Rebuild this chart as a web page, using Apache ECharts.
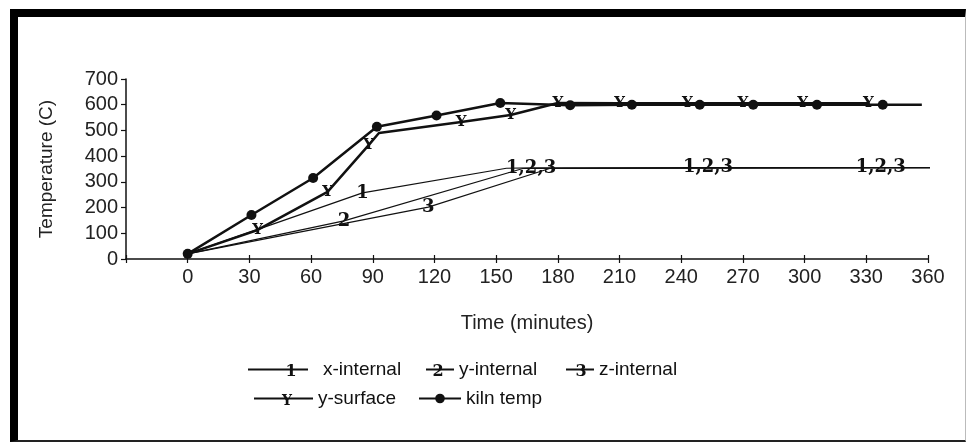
<!DOCTYPE html>
<html>
<head>
<meta charset="utf-8">
<script src="https://cdn.jsdelivr.net/npm/echarts@6/dist/echarts.min.js"></script>
<style>
  html, body { margin: 0; padding: 0; background: #fff; }
  #frame {
    position: absolute; left: 10px; top: 9px; width: 956px; height: 433px;
    box-sizing: border-box;
    border-left: 8px solid #000; border-top: 8px solid #000;
    border-bottom: 2px solid #222; border-right: 1px solid #bbb;
  }
  #chart { position: absolute; left: 0; top: 0; width: 968px; height: 443px; }
</style>
</head>
<body>
<div id="frame"></div>
<div id="chart"></div>
<script>
// time in minutes, temperature in C
const xIntTime  = [0, 85, 155, 167, 253, 337, 372];
const xIntTemp  = [20, 257, 353, 354, 355, 355, 355];
const xIntMarks = ['', '1', '', '1,2,3', '1,2,3', '1,2,3', ''];

const yIntTime  = [0, 76, 163, 372];
const yIntTemp  = [20, 148, 352, 355];
const yIntMarks = ['', '2', '', ''];

const zIntTime  = [0, 117, 176, 372];
const zIntTemp  = [20, 202, 352, 355];
const zIntMarks = ['', '3', '', ''];

const ySurfTime  = [0, 34, 68, 88, 93, 133, 157, 180, 210, 243, 270, 299, 331];
const ySurfTemp  = [20, 113, 261, 443, 490, 533, 560, 607, 606, 606, 606, 606, 606];
const ySurfMarks = ['', 'Y', 'Y', 'Y', '', 'Y', 'Y', 'Y', 'Y', 'Y', 'Y', 'Y', 'Y'];

const kilnTime = [0, 31, 61, 92, 121, 152, 186, 216, 249, 275, 306, 338, 357];
const kilnTemp = [20, 171, 315, 514, 558, 607, 598, 600, 600, 600, 600, 600, 600];

const xTicks = [-30, 0, 30, 60, 90, 120, 150, 180, 210, 240, 270, 300, 330, 360];
const yTicks = [0, 100, 200, 300, 400, 500, 600, 700];

const sans = 'Liberation Sans, Arial, sans-serif';
const serif = 'DejaVu Serif, serif';
const ink = '#111';

function pts(t, v) {
  return t.map((x, i) => [x, v[i]]);
}

// a thin line whose markers are text glyphs
function textLine(name, t, v, marks, width, size) {
  return {
    name: name, type: 'line', clip: false, silent: true,
    data: pts(t, v),
    symbol: 'circle', symbolSize: 2,
    itemStyle: { color: 'rgba(0,0,0,0)' },
    lineStyle: { color: ink, width: width },
    label: {
      show: true, position: 'inside', color: ink,
      fontFamily: serif, fontWeight: 'bold', fontSize: size,
      formatter: p => marks[p.dataIndex]
    }
  };
}

const chart = echarts.init(document.getElementById('chart'));

const kilnData = pts(kilnTime, kilnTemp).map((d, i) =>
  i === kilnTime.length - 1 ? { value: d, symbol: 'none' } : d);

const legendText = { color: ink, fontSize: 19, fontFamily: sans };
function leg(name, left, top, w, pad) {
  return {
    data: [name], left: left, top: top, padding: 0,
    itemWidth: w, itemHeight: 12, selectedMode: false,
    textStyle: Object.assign({ padding: [0, 0, 0, pad || 0] }, legendText)
  };
}

function legMark(txt, x, y, size) {
  return {
    type: 'text', x: x, y: y, silent: true,
    style: {
      text: txt, fill: ink, font: 'bold ' + size + 'px ' + serif,
      align: 'center', verticalAlign: 'middle'
    }
  };
}

const option = {
  animation: false,
  backgroundColor: 'transparent',
  textStyle: { fontFamily: sans },
  grid: { left: 126, right: 40, top: 79, bottom: 184, outerBoundsMode: 'none' },
  xAxis: [
    {
      type: 'value', min: xTicks[0], max: xTicks[xTicks.length - 1], interval: 30,
      axisLine: { show: true, onZero: false, lineStyle: { color: ink, width: 1.5 } },
      axisTick: { show: true, length: 4, lineStyle: { color: ink, width: 1.2 } },
      splitLine: { show: false },
      axisLabel: {
        color: '#222', fontSize: 20, margin: 8, fontFamily: sans,
        formatter: v => (v < 0 ? '' : String(v))
      },
      name: 'Time (minutes)', nameLocation: 'middle', nameGap: 54,
      nameTextStyle: { color: '#222', fontSize: 20, fontFamily: sans }
    },
    {
      type: 'value', position: 'bottom', min: xTicks[0], max: xTicks[xTicks.length - 1], interval: 30,
      axisLine: { show: false, onZero: false },
      axisTick: { show: true, inside: true, length: 4, lineStyle: { color: ink, width: 1.2 } },
      axisLabel: { show: false },
      splitLine: { show: false }
    }
  ],
  yAxis: {
    type: 'value', min: yTicks[0], max: yTicks[yTicks.length - 1], interval: 100,
    axisLine: { show: true, onZero: false, lineStyle: { color: ink, width: 1.5 } },
    axisTick: { show: true, length: 5, lineStyle: { color: ink, width: 1.2 } },
    splitLine: { show: false },
    axisLabel: { color: '#222', fontSize: 20, margin: 8, fontFamily: sans },
    name: 'Temperature (C)', nameLocation: 'middle', nameGap: 70,
    nameTextStyle: { color: '#222', fontSize: 19, fontFamily: sans }
  },
  legend: [
    leg('x-internal', 247, 360, 60, 10),
    leg('y-internal', 425, 360, 28),
    leg('z-internal', 565, 360, 28),
    leg('y-surface', 253, 389, 59),
    leg('kiln temp', 418, 389, 42)
  ],
  graphic: [
    legMark('1', 291, 372, 16),
    legMark('2', 438, 372, 16),
    legMark('3', 581, 372, 16),
    legMark('Y', 287, 401, 14)
  ],
  series: [
    textLine('x-internal', xIntTime, xIntTemp, xIntMarks, 1.2, 18),
    textLine('y-internal', yIntTime, yIntTemp, yIntMarks, 1.2, 18),
    textLine('z-internal', zIntTime, zIntTemp, zIntMarks, 1.2, 18),
    textLine('y-surface', ySurfTime, ySurfTemp, ySurfMarks, 2.5, 15),
    {
      name: 'kiln temp', type: 'line', clip: false, silent: true,
      data: kilnData,
      symbol: 'circle', symbolSize: 10,
      itemStyle: { color: ink },
      lineStyle: { color: ink, width: 2.5 }
    }
  ]
};

chart.setOption(option);
</script>
</body>
</html>
